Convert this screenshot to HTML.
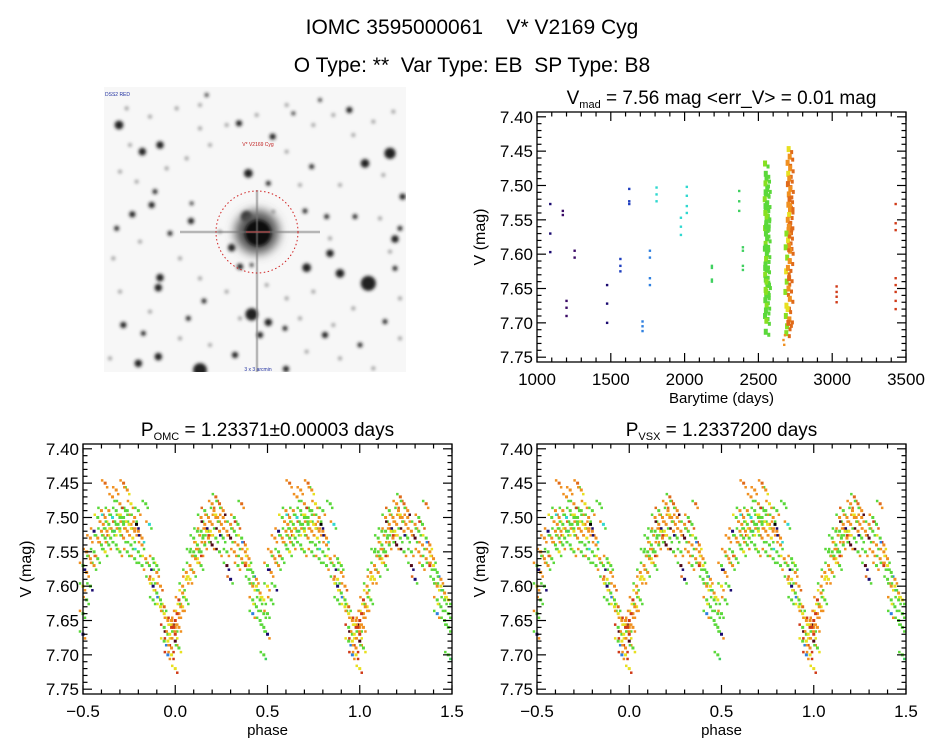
<!DOCTYPE html>
<html><head><meta charset="utf-8"><style>
html,body{margin:0;padding:0;background:#fff;}
body{width:944px;height:747px;overflow:hidden;position:relative;font-family:"Liberation Sans",sans-serif;}
.t{position:absolute;white-space:nowrap;color:#000;}
</style></head><body>
<div class="t" style="left:0;width:944px;text-align:center;top:16px;font-size:21px;">IOMC 3595000061&nbsp;&nbsp;&nbsp;&nbsp;V* V2169 Cyg</div>
<div class="t" style="left:0;width:944px;text-align:center;top:54px;font-size:21px;">O Type: **&nbsp;&nbsp;Var Type: EB&nbsp;&nbsp;SP Type: B8</div>
<svg id="sv" width="944" height="747" style="position:absolute;left:0;top:0" xmlns="http://www.w3.org/2000/svg" font-family="Liberation Sans, sans-serif">
<defs>
<filter id="bl" x="-50%" y="-50%" width="200%" height="200%"><feGaussianBlur stdDeviation="1.6"/></filter>
<filter id="bl2" x="-50%" y="-50%" width="200%" height="200%"><feGaussianBlur stdDeviation="5"/></filter>
<clipPath id="imgclip"><rect x="104" y="87" width="302" height="285"/></clipPath>
</defs>
<g id="img" clip-path="url(#imgclip)"></g>
<g id="plots"></g>
</svg>
<script>
// ---- Light curve data (time series) ----
const tsTimes = [1090,1090,1090,1175,1175,1200,1200,1200,1255,1255,1475,1475,1475,1565,1565,1565,1625,1625,1625,1715,1715,1715,1765,1765,1765,1765,1810,1810,1810,1975,1975,1975,2015,2015,2015,2015,2185,2185,2185,2185,2370,2370,2370,2395,2395,2395,2395,3030,3030,3030,3030,3430,3430,3430,3430,3430,3430,3430,3430];
const tsMags  = [7.527,7.570,7.597,7.537,7.543,7.668,7.678,7.690,7.595,7.605,7.645,7.672,7.700,7.607,7.617,7.625,7.505,7.523,7.527,7.698,7.705,7.712,7.595,7.605,7.635,7.645,7.503,7.513,7.523,7.547,7.560,7.572,7.502,7.515,7.530,7.540,7.617,7.620,7.637,7.640,7.508,7.523,7.537,7.590,7.595,7.617,7.623,7.647,7.655,7.662,7.670,7.527,7.555,7.565,7.635,7.645,7.655,7.668,7.680];
const tsColors= [0,0,0,1,1,1,1,1,1,1,0,0,0,2,2,2,2,2,2,3,3,3,3,3,3,3,4,4,4,4,4,4,4,4,4,4,5,5,5,5,5,5,5,5,5,5,5,11,11,11,11,11,11,11,11,11,11,11,11];
// dense season clusters
const s1Times = [2545,2550,2555,2548,2560,2552,2543,2558,2550,2547,2556,2553,2545,2551,2559,2549,2544,2557,2552,2548,2555,2546,2550,2561,2549,2553,2547,2556,2551,2545,2554,2550,2548,2557,2552,2546,2555,2550,2549,2553];
const s1Mags  = [7.468,7.483,7.490,7.497,7.505,7.512,7.520,7.527,7.533,7.540,7.548,7.555,7.562,7.570,7.577,7.585,7.592,7.600,7.607,7.615,7.622,7.630,7.637,7.645,7.652,7.660,7.667,7.675,7.682,7.690,7.697,7.713,7.530,7.545,7.560,7.620,7.640,7.590,7.510,7.655];
const s2Times = [2705,2712,2698,2715,2702,2709,2700,2716,2706,2711,2703,2714,2708,2699,2713,2704,2710,2701,2707,2715,2690,2685,2695,2688,2692,2683,2690,2686,2694,2689,2712,2700,2708,2704,2713,2698,2710,2703,2714,2706];
const s2Mags  = [7.447,7.458,7.467,7.475,7.483,7.490,7.498,7.505,7.513,7.520,7.528,7.535,7.543,7.550,7.558,7.565,7.573,7.580,7.588,7.595,7.570,7.590,7.605,7.625,7.640,7.655,7.675,7.690,7.705,7.715,7.610,7.620,7.635,7.650,7.665,7.680,7.695,7.700,7.530,7.560];
const s2Colors= [8,9,9,9,8,9,10,9,9,10,9,9,8,9,10,9,9,8,9,9,7,7,7,8,7,7,8,7,7,7,9,9,10,9,9,8,9,10,9,9];
const s3Times = [2670,2675,2680];
const s3Mags  = [7.725,7.732,7.718];
// ---- Phase-folded data (phase in [-0.5,0.5)) ----
const phPhase = [-0.50,-0.50,-0.50,-0.50,-0.48,-0.48,-0.48,-0.46,-0.46,-0.46,-0.44,-0.44,-0.44,-0.42,-0.42,-0.42,-0.40,-0.40,-0.40,-0.38,-0.38,-0.38,-0.38,-0.36,-0.36,-0.36,-0.34,-0.34,-0.34,-0.32,-0.32,-0.32,-0.32,-0.30,-0.30,-0.30,-0.30,-0.28,-0.28,-0.28,-0.28,-0.26,-0.26,-0.26,-0.26,-0.24,-0.24,-0.24,-0.22,-0.22,-0.22,-0.20,-0.20,-0.20,-0.18,-0.18,-0.18,-0.16,-0.16,-0.14,-0.14,-0.14,-0.12,-0.12,-0.12,-0.12,-0.10,-0.10,-0.10,-0.08,-0.08,-0.08,-0.06,-0.06,-0.06,-0.06,-0.04,-0.04,-0.04,-0.04,-0.02,-0.02,-0.02,-0.02,0.00,0.00,0.00,0.00,0.00,0.02,0.02,0.02,0.02,0.04,0.04,0.04,0.06,0.06,0.06,0.08,0.08,0.08,0.10,0.10,0.10,0.12,0.12,0.12,0.14,0.14,0.14,0.14,0.16,0.16,0.16,0.18,0.18,0.18,0.20,0.20,0.20,0.22,0.22,0.22,0.24,0.24,0.24,0.26,0.26,0.26,0.28,0.28,0.28,0.30,0.30,0.30,0.32,0.32,0.32,0.34,0.34,0.34,0.36,0.36,0.36,0.38,0.38,0.38,0.40,0.40,0.40,0.42,0.42,0.42,0.42,0.44,0.44,0.44,0.46,0.46,0.46,0.48,0.48,0.48,0.48,-0.31,-0.29,-0.33,-0.27,-0.35,-0.25,0.15,0.13,0.17,0.11,-0.01,0.01,-0.03,0.03,0.21,0.23,0.25,0.19,-0.39,-0.37,-0.23,-0.21];
const phMags  = [7.57,7.60,7.64,7.67,7.58,7.62,7.55,7.56,7.60,7.53,7.55,7.52,7.57,7.53,7.56,7.50,7.52,7.54,7.49,7.50,7.53,7.45,7.55,7.51,7.49,7.54,7.50,7.52,7.47,7.49,7.51,7.54,7.46,7.50,7.52,7.48,7.55,7.45,7.51,7.53,7.50,7.52,7.49,7.55,7.46,7.51,7.54,7.48,7.52,7.56,7.50,7.52,7.55,7.49,7.54,7.57,7.53,7.48,7.56,7.51,7.57,7.59,7.56,7.60,7.62,7.59,7.58,7.61,7.57,7.60,7.63,7.62,7.63,7.66,7.64,7.68,7.65,7.68,7.70,7.67,7.66,7.69,7.70,7.65,7.67,7.65,7.68,7.72,7.66,7.64,7.62,7.69,7.66,7.61,7.63,7.60,7.59,7.58,7.62,7.57,7.59,7.55,7.55,7.58,7.53,7.54,7.52,7.56,7.52,7.55,7.50,7.57,7.51,7.54,7.49,7.50,7.53,7.52,7.48,7.54,7.51,7.47,7.50,7.53,7.48,7.52,7.55,7.50,7.53,7.49,7.52,7.55,7.57,7.53,7.51,7.59,7.52,7.55,7.50,7.51,7.54,7.57,7.48,7.53,7.56,7.55,7.57,7.54,7.56,7.59,7.57,7.58,7.60,7.62,7.64,7.60,7.63,7.59,7.62,7.65,7.61,7.64,7.66,7.62,7.70,7.51,7.50,7.52,7.49,7.53,7.51,7.53,7.55,7.52,7.56,7.66,7.64,7.67,7.63,7.49,7.50,7.51,7.52,7.51,7.52,7.53,7.51];
const phColors= [6,8,6,0,9,6,9,9,6,9,6,0,9,9,6,6,9,6,9,9,6,10,8,6,9,6,4,6,9,6,6,6,9,6,8,9,6,10,6,9,6,9,6,6,9,9,6,8,9,6,9,9,6,6,9,6,9,6,9,4,6,9,6,0,6,8,9,6,6,9,8,6,10,6,8,6,9,8,3,6,11,9,8,9,11,11,12,8,9,9,11,6,9,9,8,9,8,9,6,9,8,6,6,9,6,6,6,8,6,6,9,6,9,6,6,9,9,6,9,12,9,10,9,6,10,9,6,9,6,9,9,6,12,12,9,0,6,9,6,6,9,6,10,6,9,9,11,9,9,6,8,6,9,6,3,8,6,9,6,6,9,6,6,8,6,6,6,5,6,6,8,6,6,8,9,11,11,8,9,9,9,9,8,9,9,8];
const palette = ["#1a0a70","#3a0a66","#1f3fbf","#2f80e0","#30d8d0","#40d060","#5ad83a","#88e020","#e8e020","#f09020","#e06a1a","#d03a18","#500818"];

const NS="http://www.w3.org/2000/svg";
const svg=document.getElementById('plots');
function mk(tag,attrs,parent){const e=document.createElementNS(NS,tag);for(const k in attrs)e.setAttribute(k,attrs[k]);(parent||svg).appendChild(e);return e;}

function panel(name,box,xr,yr,xmaj,xmin,ymaj,ymin,xfmt,xlabel,title,titleSub,titleRest){
  const g=mk('g',{});
  
  
  const sx=v=>box.x+(v-xr[0])/(xr[1]-xr[0])*box.w;
  const sy=v=>box.y+(v-yr[0])/(yr[1]-yr[0])*box.h;
  const pts=mk('g',{},g);
  
  
  const frame=mk('rect',{x:box.x,y:box.y,width:box.w,height:box.h,fill:'none',stroke:'#000','stroke-width':1.3},g);
  
  
  const ax=mk('g',{stroke:'#000','stroke-width':1.2},g);
  
  
  for(let v=xr[0];v<=xr[1]+1e-9;v+=xmin){
    const isMaj=Math.abs(Math.round((v-xr[0])/xmaj)*xmaj-(v-xr[0]))<1e-6;
    const L=isMaj?9:4.5;const X=sx(v);
    mk('line',{x1:X,x2:X,y1:box.y+box.h,y2:box.y+box.h-L},ax);
    mk('line',{x1:X,x2:X,y1:box.y,y2:box.y+L},ax);
    if(isMaj){const t=mk('text',{x:X,y:box.y+box.h+23,'font-size':17,'text-anchor':'middle',fill:'#000',stroke:'none'},g);t.textContent=xfmt(v);
      
      }
  }
  const y0=Math.ceil(yr[0]/ymin-1e-6)*ymin;
  for(let v=y0;v<=yr[1]+1e-9;v+=ymin){
    const k=Math.round(v/ymin);const isMaj=k%Math.round(ymaj/ymin)===0;
    const L=isMaj?9:4.5;const Y=sy(v);
    mk('line',{y1:Y,y2:Y,x1:box.x,x2:box.x+L},ax);
    mk('line',{y1:Y,y2:Y,x1:box.x+box.w,x2:box.x+box.w-L},ax);
    if(isMaj){const t=mk('text',{x:box.x-4,y:Y+6,'font-size':17,'text-anchor':'end',fill:'#000',stroke:'none'},g);t.textContent=(k*ymin).toFixed(2);
      
      }
  }
  const xl=mk('text',{x:box.x+box.w/2,y:box.y+box.h+41,'font-size':15,'text-anchor':'middle'},g);xl.textContent=xlabel;
  
  
  const yl=mk('text',{x:0,y:0,'font-size':16,'text-anchor':'middle',transform:`translate(${box.x-52},${box.y+box.h/2}) rotate(-90)`},g);yl.textContent='V (mag)';
  
  
  const tt=mk('text',{x:box.x+box.w/2,y:box.y-8,'font-size':19,'text-anchor':'middle'},g);
  
  
  const a=mk('tspan',{},tt);a.textContent=title;
  const b=mk('tspan',{'font-size':11,dy:4},tt);b.textContent=titleSub;
  const c=mk('tspan',{dy:-4},tt);c.textContent=titleRest;
  return {sx,sy,pts};
}
function dot(p,x,y,col,w,h){const r=mk('rect',{x:x-w/2,y:y-h/2,width:w,height:h,fill:col},p);
  
  }

const P1=panel('time-series-panel',{x:537,y:112,w:369,h:250},[1000,3500],[7.393,7.757],500,100,0.05,0.01,v=>String(Math.round(v)),'Barytime (days)','V','mad',' = 7.56 mag <err_V> = 0.01 mag');
tsTimes.forEach((t,i)=>dot(P1.pts,P1.sx(t),P1.sy(tsMags[i]),palette[tsColors[i]],2.4,2.4));
s1Times.forEach((t,i)=>{dot(P1.pts,P1.sx(t),P1.sy(s1Mags[i]),palette[i%3===0?7:6],4,6);dot(P1.pts,P1.sx(t)+3,P1.sy(s1Mags[i])+3,palette[6],3,4);});
s2Times.forEach((t,i)=>{dot(P1.pts,P1.sx(t),P1.sy(s2Mags[i]),palette[s2Colors[i]],4,6);dot(P1.pts,P1.sx(t)+3,P1.sy(s2Mags[i])+3,palette[10],3,4);});
s3Times.forEach((t,i)=>dot(P1.pts,P1.sx(t),P1.sy(s3Mags[i]),palette[9],2.4,2.4));

function phasePanel(name,box,sub,rest){
  const P=panel(name,box,[-0.5,1.5],[7.393,7.757],0.5,0.1,0.05,0.01,v=>(Math.abs(v)<1e-9?0:v).toFixed(1).replace('-','\u2212'),'phase','P',sub,rest);
  for(const off of [0,1]){
    phPhase.forEach((p,i)=>{const ph=p+off; if(ph<-0.5||ph>1.5)return;
      dot(P.pts,P.sx(ph),P.sy(phMags[i]),palette[phColors[i]],3,3);
      dot(P.pts,P.sx(ph)+2,P.sy(phMags[i]+0.006),palette[phColors[(i+3)%phColors.length]],2.5,2.5);
      dot(P.pts,P.sx(ph)-3,P.sy(phMags[i]-0.004),palette[phColors[(i+7)%phColors.length]],2.5,2.5);});
  }
}
phasePanel('phase-plot-omc',{x:83,y:444,w:369,h:250},'OMC',' = 1.23371\u00b10.00003 days');
phasePanel('phase-plot-vsx',{x:537,y:444,w:369,h:250},'VSX',' = 1.2337200 days');

// Sky image (decorative)
const img=document.getElementById('img');
mk('rect',{x:104,y:87,width:302,height:285,fill:'#f7f7f7'},img);
const faint=[[80,70],[150,95],[230,70],[300,60],[380,120],[470,90],[560,60],[640,120],[700,90],[820,110],[880,80],[60,260],[110,290],[200,250],[260,220],[330,180],[560,200],[600,300],[720,300],[850,270],[40,520],[120,470],[240,520],[300,580],[380,620],[560,640],[640,620],[760,670],[900,640],[60,620],[240,760],[330,780],[620,800],[720,820],[820,850],[900,760],[500,600],[360,440],[690,460],[520,380],[90,180],[300,130],[760,150],[840,400],[600,700],[150,680],[420,700],[700,720],[870,500],[30,820]];
const fg=mk('g',{filter:'url(#bl)'},img);
faint.forEach(s=>mk('circle',{cx:100+s[0]/3,cy:85+s[1]/3,r:1.8,fill:'#888'},fg));
const stars=[[57,120,14],[127,200,12],[180,180,12],[155,360,10],[97,388,10],[273,408,10],[445,265,14],[417,115,10],[518,155,10],[748,75,10],[870,205,18],[795,235,14],[908,335,10],[885,462,12],[620,548,14],[720,565,14],[690,505,12],[805,595,24],[455,688,20],[505,712,12],[180,578,12],[175,608,12],[70,720,10],[175,815,12],[115,835,12],[300,855,22],[558,852,10],[480,750,10],[675,750,10],[555,730,8],[395,488,12],[420,545,10],[615,378,8],[635,245,8],[680,395,8],[765,395,8],[505,295,8],[165,320,8],[130,745,8],[265,700,8],[780,780,8],[855,710,8],[312,648,8],[50,430,8],[210,445,8],[885,550,8],[405,810,10],[440,395,18],[275,355,6],[580,85,6],[320,30,6],[660,45,6],[900,430,8],[455,540,6]];
const sg=mk('g',{filter:'url(#bl)'},img);
stars.forEach(s=>mk('circle',{cx:100+s[0]/3,cy:85+s[1]/3,r:s[2]/3.2,fill:'#222'},sg));
mk('circle',{cx:257,cy:232,r:22,fill:'#555',filter:'url(#bl2)'},img);
mk('circle',{cx:258,cy:233,r:13,fill:'#111',filter:'url(#bl)'},img);
mk('line',{x1:180,x2:320,y1:232,y2:232,stroke:'#777','stroke-width':2.5,opacity:0.5},img);
mk('line',{x1:257,x2:257,y1:190,y2:372,stroke:'#777','stroke-width':2.5,opacity:0.5},img);
mk('circle',{cx:257,cy:232,r:41,fill:'none',stroke:'#d02020','stroke-width':1,'stroke-dasharray':'1.5,2.5'},img);
mk('line',{x1:246,x2:270,y1:232,y2:232,stroke:'#c04040','stroke-width':1},img);
const lab=mk('text',{x:258,y:146,'font-size':5,'text-anchor':'middle',fill:'#c02020'},img);lab.textContent='V* V2169 Cyg';
const lab2=mk('text',{x:105,y:96,'font-size':5,fill:'#2030a0'},img);lab2.textContent='DSS2 RED';
const lab3=mk('text',{x:258,y:371,'font-size':5,'text-anchor':'middle',fill:'#2030a0'},img);lab3.textContent='3 x 3 arcmin';
</script>
</body></html>
